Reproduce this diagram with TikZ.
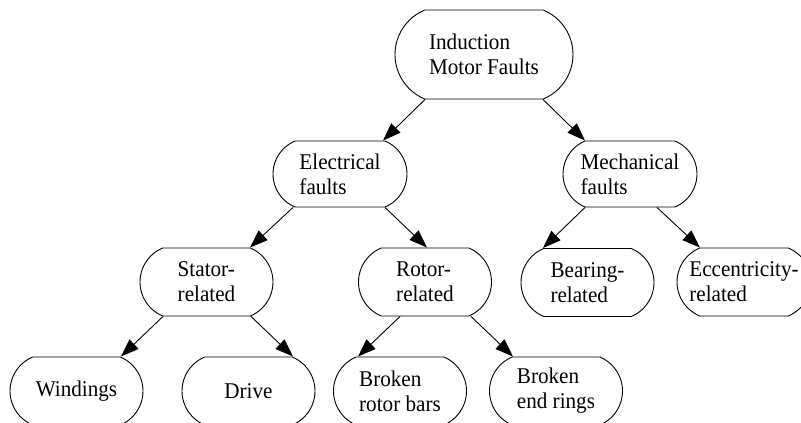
\documentclass[tikz,border=0pt]{standalone}
\usepackage{fontspec}
\setmainfont[FakeStretch=0.94]{Liberation Serif}
\usetikzlibrary{shapes.misc,arrows.meta,calc}
\begin{document}
\begin{tikzpicture}[x=1pt,y=-1pt,
  fbox/.style={draw, line width=0.9pt, rounded rectangle, rounded rectangle arc length=135,
    minimum width=133pt, minimum height=68pt, inner sep=0pt, align=left,
    font=\fontsize{22.5}{25}\selectfont},
  edge/.style={draw, line width=0.9pt, -{Triangle[length=18pt,width=13pt]}}]
\clip (0,0) rectangle (801,423);
\useasboundingbox (0,0) rectangle (801,423);
\node[fbox, minimum width=178pt, minimum height=89pt] (root) at (484,54.5) {Induction\\Motor Faults};
\node[fbox, minimum width=134pt, minimum height=66pt] (elec) at (340,174) {Electrical\\faults};
\node[fbox, minimum width=134pt, minimum height=66pt] (mech) at (630,174) {Mechanical\\faults};
\node[fbox] (stator) at (206.5,282) {Stator-\\related};
\node[fbox] (rotor) at (425,282) {Rotor-\\related};
\node[fbox] (bearing) at (587.5,282.5) {Bearing-\\related};
\node[fbox, minimum width=134pt] (ecc) at (744,282) {Eccentricity-\\related};
\node[fbox] (wind) at (76.5,391) {Windings};
\node[fbox] (drive) at (248.5,391) {Drive};
\node[fbox] (bars) at (400,391) {Broken\\rotor bars};
\node[fbox] (rings) at (556,391) {Broken\\end rings};
\draw[edge] ($(root.south)+(-59,0)$) -- ($(elec.north)+(43,0)$);
\draw[edge] ($(root.south)+(59,0)$) -- ($(mech.north)+(-45,0)$);
\draw[edge] ($(elec.south)+(-47,0)$) -- ($(stator.north)+(43.5,0)$);
\draw[edge] ($(elec.south)+(45,0)$) -- ($(rotor.north)+(2,0)$);
\draw[edge] ($(mech.south)+(-45,0)$) -- ($(bearing.north)+(-44.5,0)$);
\draw[edge] ($(mech.south)+(27,0)$) -- ($(ecc.north)+(-44,0)$);
\draw[edge] ($(stator.south)+(-43.5,0)$) -- ($(wind.north)+(44.5,0)$);
\draw[edge] ($(stator.south)+(44.5,0)$) -- ($(drive.north)+(44.5,0)$);
\draw[edge] ($(rotor.south)+(-25,0)$) -- ($(bars.north)+(-42,0)$);
\draw[edge] ($(rotor.south)+(46,0)$) -- ($(rings.north)+(-43,0)$);
\end{tikzpicture}
\end{document}
